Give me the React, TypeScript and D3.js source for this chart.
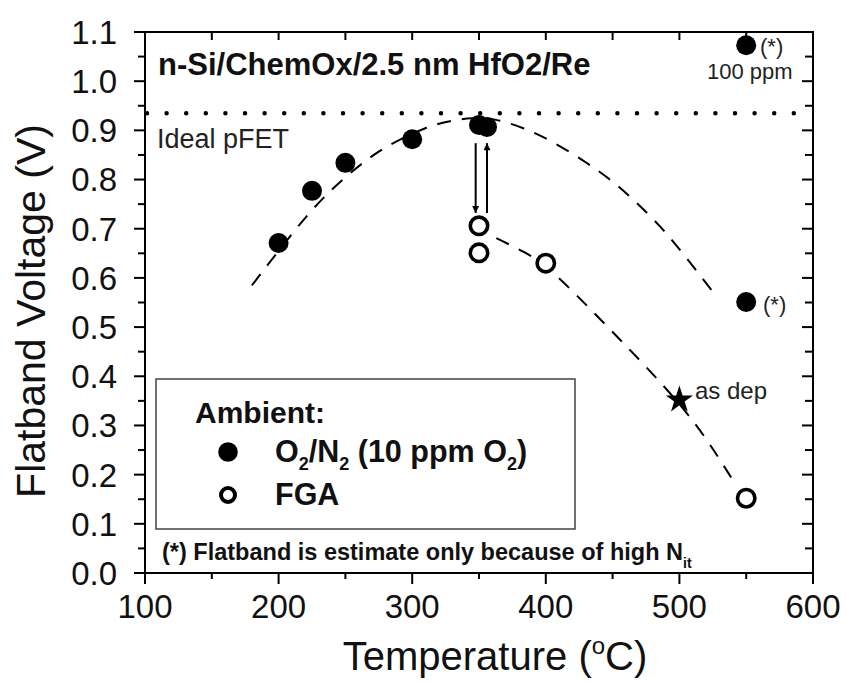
import React from "react";
import * as d3 from "d3";

// Annealing data: flatband voltage vs. anneal temperature
const o2Temps = [200, 225, 250, 300, 350, 356, 550, 550];
const o2Vfb = [0.671, 0.777, 0.834, 0.882, 0.911, 0.907, 1.073, 0.551];
const fgaTemps = [350, 350, 400, 550];
const fgaVfb = [0.706, 0.651, 0.63, 0.152];
const asDepTemp = [500];
const asDepVfb = [0.352];

// Hand-drawn guide curves
const o2GuideT = [180, 200, 220, 239, 259, 275, 291, 311, 327, 345, 362, 383, 405, 431, 450, 467, 487, 502, 515, 527];
const o2GuideV = [0.585, 0.655, 0.724, 0.779, 0.826, 0.858, 0.882, 0.907, 0.919, 0.926, 0.924, 0.906, 0.878, 0.834, 0.797, 0.756, 0.702, 0.652, 0.607, 0.565];
const fgaGuideT = [363, 386, 400, 425, 450, 475, 500, 520, 539];
const fgaGuideV = [0.681, 0.65, 0.626, 0.56, 0.49, 0.42, 0.345, 0.275, 0.193];

const idealPfet = 0.935;

const xTicks = [100, 200, 300, 400, 500, 600];
const yTicks = [0, 0.1, 0.2, 0.3, 0.4, 0.5, 0.6, 0.7, 0.8, 0.9, 1.0, 1.1];

const W = 847;
const H = 682;
const L = 145;
const R = 813;
const T = 32;
const B = 573;
const FONT = "'Liberation Sans', Arial, Helvetica, sans-serif";

export default function App() {
  const x = d3.scaleLinear().domain([100, 600]).range([L, R]);
  const y = d3.scaleLinear().domain([0, 1.1]).range([B, T]);

  const line = d3
    .line<[number, number]>()
    .x((d) => x(d[0]))
    .y((d) => y(d[1]))
    .curve(d3.curveBasis);

  const o2Guide = o2GuideT.map((t, i) => [t, o2GuideV[i]] as [number, number]);
  const fgaGuide = fgaGuideT.map((t, i) => [t, fgaGuideV[i]] as [number, number]);

  const minorX = d3.range(100, 601, 50);
  const minorY = d3.range(0, 1.1001, 0.05);

  const star = d3.symbol().type(d3.symbolStar).size(230)();

  const arrowDownX = x(347.5);
  const arrowUpX = x(356);
  const aTop = y(0.874);
  const aBot = y(0.732);

  return (
    <svg
      width={W}
      height={H}
      style={{ position: "absolute", left: 0, top: 0, background: "#fff" }}
      fontFamily={FONT}
    >
      <defs>
        <marker id="ah" viewBox="0 0 10 10" refX="10" refY="5" markerWidth="9" markerHeight="7" markerUnits="userSpaceOnUse" orient="auto">
          <path d="M0,0 L10,5 L0,10 Z" fill="#000" />
        </marker>
      </defs>

      {/* frame */}
      <rect x={L} y={T} width={R - L} height={B - T} fill="none" stroke="#000" strokeWidth={2} />

      {/* left ticks (outward) */}
      {minorY.map((v, i) => (
        <line key={"ly" + i} x1={L} x2={L - (i % 2 === 0 ? 11 : 7)} y1={y(v)} y2={y(v)} stroke="#000" strokeWidth={2} />
      ))}
      {/* right ticks (inward) */}
      {minorY.map((v, i) => (
        <line key={"ry" + i} x1={R} x2={R - (i % 2 === 0 ? 11 : 8)} y1={y(v)} y2={y(v)} stroke="#000" strokeWidth={2} />
      ))}
      {/* bottom ticks (outward) */}
      {minorX.map((v, i) => (
        <line key={"bx" + i} x1={x(v)} x2={x(v)} y1={B} y2={B + (i % 2 === 0 ? 11 : 6)} stroke="#000" strokeWidth={2} />
      ))}
      {/* top ticks (inward) */}
      {minorX.map((v, i) => (
        <line key={"tx" + i} x1={x(v)} x2={x(v)} y1={T} y2={T + 8} stroke="#000" strokeWidth={2} />
      ))}

      {/* tick labels */}
      {yTicks.map((v) => (
        <text key={"yl" + v} x={117} y={y(v)} dy="0.36em" textAnchor="end" fontSize={33} fill="#111">
          {v.toFixed(1)}
        </text>
      ))}
      {xTicks.map((v) => (
        <text key={"xl" + v} x={x(v)} y={618} textAnchor="middle" fontSize={33} fill="#111">
          {v}
        </text>
      ))}

      {/* axis titles */}
      <text x={495} y={670} textAnchor="middle" fontSize={40} fill="#111">
        Temperature (<tspan dy={-16} fontSize={24}>o</tspan>
        <tspan dy={16}>C)</tspan>
      </text>
      <text transform={`translate(45,311) rotate(-90)`} textAnchor="middle" fontSize={41} fill="#111">
        Flatband Voltage (V)
      </text>

      {/* ideal pFET reference */}
      <line x1={147} x2={797} y1={y(idealPfet)} y2={y(idealPfet)} stroke="#000" strokeWidth={4.5} strokeDasharray="0 19.6" strokeLinecap="round" />
      <text x={157} y={148} fontSize={27} fill="#222">
        Ideal pFET
      </text>

      {/* title */}
      <text x={158} y={75} fontSize={31} fontWeight="bold" fill="#111">
        n-Si/ChemOx/2.5 nm HfO2/Re
      </text>

      {/* guide curves */}
      <path d={line(o2Guide) || ""} fill="none" stroke="#000" strokeWidth={2} strokeDasharray="14 11" />
      <path d={line(fgaGuide) || ""} fill="none" stroke="#000" strokeWidth={2} strokeDasharray="14 11" />

      {/* arrows */}
      <line x1={arrowDownX} x2={arrowDownX} y1={aTop} y2={aBot} stroke="#000" strokeWidth={2} markerEnd="url(#ah)" />
      <line x1={arrowUpX} x2={arrowUpX} y1={aBot} y2={aTop} stroke="#000" strokeWidth={2} markerEnd="url(#ah)" />

      {/* O2/N2 points */}
      {o2Temps.map((t, i) => (
        <circle key={"f" + i} cx={x(t)} cy={y(o2Vfb[i])} r={10} fill="#000" />
      ))}
      {/* FGA points */}
      {fgaTemps.map((t, i) => (
        <circle key={"o" + i} cx={x(t)} cy={y(fgaVfb[i])} r={8.7} fill="#fff" stroke="#000" strokeWidth={3.6} />
      ))}
      {/* as-deposited */}
      {asDepTemp.map((t, i) => (
        <path key={"s" + i} d={star || ""} transform={`translate(${x(t)},${y(asDepVfb[i])})`} fill="#000" />
      ))}

      {/* annotations */}
      <text x={760} y={54} fontSize={22} fill="#222">(*)</text>
      <text x={707} y={79} fontSize={22} fill="#222">100 ppm</text>
      <text x={763} y={312} fontSize={22} fill="#222">(*)</text>
      <text x={695} y={399} fontSize={24} fill="#222">as dep</text>

      {/* legend */}
      <rect x={156} y={379} width={419} height={150} fill="#fff" stroke="#444" strokeWidth={1.5} />
      <text x={195} y={423} fontSize={30} fontWeight="bold" fill="#111">Ambient:</text>
      <circle cx={228} cy={452} r={9.8} fill="#000" />
      <text x={275} y={462} fontSize={30.5} fontWeight="bold" fill="#111">
        O<tspan dy={8} fontSize={18}>2</tspan>
        <tspan dy={-8}>/N</tspan>
        <tspan dy={8} fontSize={18}>2</tspan>
        <tspan dy={-8}> (10 ppm O</tspan>
        <tspan dy={8} fontSize={18}>2</tspan>
        <tspan dy={-8}>)</tspan>
      </text>
      <circle cx={228} cy={495} r={7} fill="#fff" stroke="#000" strokeWidth={4} />
      <text x={275} y={505} fontSize={30.5} fontWeight="bold" fill="#111">FGA</text>

      {/* footnote */}
      <text x={162} y={560} fontSize={23.5} fontWeight="bold" fill="#111">
        (*) Flatband is estimate only because of high N<tspan dy={8} fontSize={14}>it</tspan>
      </text>
    </svg>
  );
}
